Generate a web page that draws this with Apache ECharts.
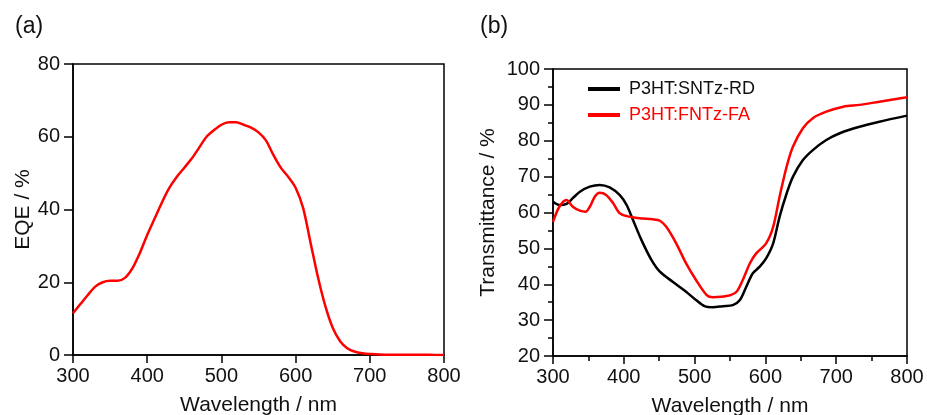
<!DOCTYPE html>
<html>
<head>
<meta charset="utf-8">
<script src="https://cdn.jsdelivr.net/npm/echarts@6/dist/echarts.min.js"></script>
<style>
  html, body { margin: 0; padding: 0; background: #fff; }
  #chart { width: 927px; height: 415px; }
</style>
</head>
<body>
<div id="chart"></div>
<script>
// panel (a): EQE spectrum
var eqeWave = [300, 310, 320, 330, 340, 350, 360, 370, 380, 390, 400, 410, 420, 430, 440, 450,
    460, 470, 480, 490, 500, 510, 520, 530, 540, 550, 560, 570, 580, 590, 600, 610, 620, 630,
    640, 650, 660, 670, 680, 690, 700, 720, 740, 760, 780, 800]
var eqeVal = [11.5, 14, 16.5, 18.8, 20, 20.4, 20.4, 21.2, 23.8, 28, 33, 37.5, 42, 46, 49, 51.5,
    54, 57, 60, 61.8, 63.3, 64, 64, 63.3, 62.5, 61.2, 59, 55, 51.5, 49, 46, 40.5, 31, 21.5,
    13.5, 7.5, 3.8, 1.8, 0.9, 0.5, 0.3, 0.1, 0.1, 0.1, 0.05, 0]

// panel (b): transmittance spectra
var blackWave = [300, 309, 319, 328, 338, 352, 366, 380, 394, 404, 413, 425, 439, 451, 469, 488,
    502, 514, 526, 540, 554, 564, 573, 582, 592, 601, 611, 620, 630, 639, 653, 667, 686, 705,
    733, 761, 800]
var blackVal = [63, 62.1, 62.4, 64, 65.8, 67.2, 67.7, 67, 64.9, 62.1, 57.9, 52.3, 46.8, 43.5,
    40.7, 37.9, 35.6, 33.9, 33.6, 33.9, 34.2, 35.6, 39.3, 43, 44.9, 47.2, 51.4, 58.8, 65.3, 70,
    74.6, 77.4, 80.2, 82.1, 83.9, 85.3, 87]
var redWave = [300, 309, 319, 328, 338, 346, 352, 359, 366, 375, 385, 394, 404, 422, 441, 451,
    460, 474, 488, 502, 517, 526, 545, 559, 568, 578, 587, 601, 611, 620, 630, 639, 653, 667,
    686, 710, 733, 761, 800]
var redVal = [57.4, 61.6, 63.5, 61.6, 60.5, 60.2, 61.6, 64.4, 65.5, 64.9, 62.6, 59.8, 59, 58.4,
    58.1, 57.7, 56, 51.4, 45.8, 41.2, 37, 36.4, 36.7, 37.9, 41.2, 45.8, 48.6, 51.4, 56, 64.4,
    72.8, 78.4, 83.5, 86.3, 88.1, 89.5, 90, 90.9, 92.1]

var seriesNames = ['P3HT:SNTz-RD', 'P3HT:FNTz-FA']

function pairs(xs, ys){
    var out = []
    for(let i=0;i<xs.length;i++){
        out.push([xs[i], ys[i]])
    }
    return out
}

var font = '"Liberation Sans", Arial, sans-serif'

function xAxisOf(gridIndex, minor){
    return {
        type: 'value', gridIndex: gridIndex, min: 300, max: 800, interval: 100,
        name: 'Wavelength / nm', nameLocation: 'middle', nameGap: 40,
        nameTextStyle: { fontSize: 21, color: '#111', fontFamily: font },
        axisLine: { lineStyle: { color: '#000', width: 1.5 } },
        axisTick: { inside: false, length: 8, lineStyle: { color: '#000', width: 1.5 } },
        minorTick: { show: minor, splitNumber: 2, length: 5, lineStyle: { color: '#000', width: 1.5 } },
        axisLabel: { fontSize: 20, color: '#111', fontFamily: font, margin: 11 },
        splitLine: { show: false }
    }
}

function yAxisOf(gridIndex, min, max, interval, name, gap, minor){
    return {
        type: 'value', gridIndex: gridIndex, min: min, max: max, interval: interval,
        name: name, nameLocation: 'middle', nameGap: gap,
        nameTextStyle: { fontSize: 21, color: '#111', fontFamily: font },
        axisLine: { show: true, lineStyle: { color: '#000', width: 1.5 } },
        axisTick: { show: true, length: 9, lineStyle: { color: '#000', width: 1.5 } },
        minorTick: { show: minor, splitNumber: 2, length: 5, lineStyle: { color: '#000', width: 1.5 } },
        axisLabel: { fontSize: 20, color: '#111', fontFamily: font, margin: 13 },
        splitLine: { show: false }
    }
}

option = {
    backgroundColor: '#fff',
    animation: false,
    title: [
        { text: '(a)', left: 10, top: 10, textStyle: { fontSize: 23, fontWeight: 'normal', color: '#111', fontFamily: font } },
        { text: '(b)', left: 475, top: 10, textStyle: { fontSize: 23, fontWeight: 'normal', color: '#111', fontFamily: font } }
    ],
    grid: [
        { left: 73, top: 64, width: 371, height: 291, show: true, borderColor: '#000', borderWidth: 1.5,
          containLabel: false, outerBoundsMode: 'none' },
        { left: 553, top: 69, width: 354, height: 287, show: true, borderColor: '#000', borderWidth: 1.5,
          containLabel: false, outerBoundsMode: 'none' }
    ],
    xAxis: [ xAxisOf(0, false), xAxisOf(1, true) ],
    yAxis: [
        yAxisOf(0, 0, 80, 20, 'EQE / %', 38, false),
        yAxisOf(1, 20, 100, 10, 'Transmittance / %', 54, true)
    ],
    legend: {
        orient: 'vertical',
        left: 583, top: 75,
        icon: 'rect',
        itemWidth: 32, itemHeight: 4, itemGap: 8,
        textStyle: { fontSize: 18, fontFamily: font, padding: [0, 0, 0, 4] },
        data: [
            { name: seriesNames[0], textStyle: { color: '#111' } },
            { name: seriesNames[1], textStyle: { color: '#ff0000' } }
        ]
    },
    series: [
        {
            type: 'line', xAxisIndex: 0, yAxisIndex: 0, name: 'EQE',
            data: pairs(eqeWave, eqeVal), smooth: 0.3, symbol: 'none',
            lineStyle: { color: '#ff0000', width: 2.5 }, itemStyle: { color: '#ff0000' }
        },
        {
            type: 'line', xAxisIndex: 1, yAxisIndex: 1, name: seriesNames[0],
            data: pairs(blackWave, blackVal), smooth: 0.3, symbol: 'none',
            lineStyle: { color: '#000', width: 2.5 }, itemStyle: { color: '#000' }
        },
        {
            type: 'line', xAxisIndex: 1, yAxisIndex: 1, name: seriesNames[1],
            data: pairs(redWave, redVal), smooth: 0.3, symbol: 'none',
            lineStyle: { color: '#ff0000', width: 2.5 }, itemStyle: { color: '#ff0000' }
        }
    ]
};

var myChart = echarts.init(document.getElementById('chart'));
myChart.setOption(option);
</script>
</body>
</html>
